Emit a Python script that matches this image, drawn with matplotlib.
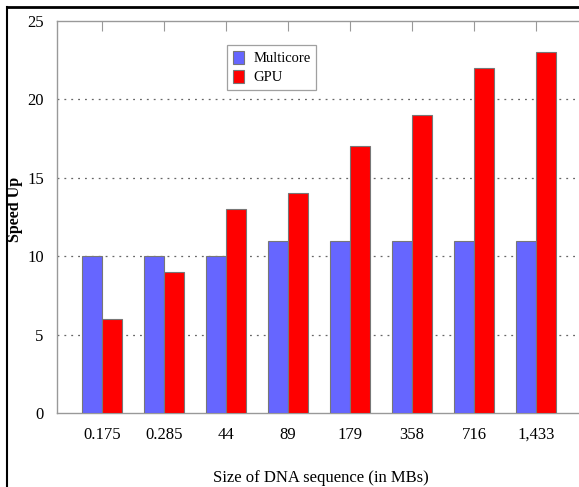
import matplotlib
matplotlib.use("Agg")
import matplotlib.pyplot as plt
import numpy as np
from matplotlib.lines import Line2D

categories = ["0.175", "0.285", "44", "89", "179", "358", "716", "1,433"]
multicore = [10, 10, 10, 11, 11, 11, 11, 11]
gpu = [6, 9, 13, 14, 17, 19, 22, 23]

plt.rcParams['font.family'] = ['Liberation Serif', 'DejaVu Serif']

fig = plt.figure(figsize=(5.79, 4.87), dpi=100)
ax = fig.add_axes([57/579, 1-413/487, 1-57/579, (413-21)/487])

x = np.arange(len(categories))
w = 0.32
ax.bar(x - w/2, multicore, w, color='#6666FF', edgecolor='#777777', linewidth=0.8, label='Multicore', zorder=3)
ax.bar(x + w/2, gpu, w, color='#FF0000', edgecolor='#777777', linewidth=0.8, label='GPU', zorder=3)

ax.set_xlim(-0.726, 7.69)
ax.set_ylim(0, 25)
ax.set_yticks([0, 5, 10, 15, 20, 25])
ax.set_xticks(x)
ax.set_xticklabels(categories)
ax.tick_params(axis='x', which='both', bottom=False, top=True, direction='in', length=7, color='#999999', pad=10, labelsize=12)
ax.tick_params(axis='y', left=False, pad=6, labelsize=12)

for y in [5, 10, 15, 20]:
    ax.axhline(y, color='#666666', linestyle=(0, (1.5, 4)), linewidth=0.9, zorder=1)

for s in ['left', 'bottom', 'top']:
    ax.spines[s].set_color('#999999')
    ax.spines[s].set_linewidth(1.0)
ax.spines['right'].set_visible(False)

ax.set_ylabel('Speed Up', fontweight='bold', fontsize=11.5)
ax.yaxis.set_label_coords((23-57)/522, 0.52)
ax.set_xlabel('Size of DNA sequence (in MBs)', fontsize=12)
ax.xaxis.set_label_coords(0.505, -0.145)

leg = ax.legend(loc='upper left', bbox_to_anchor=((227-57)/522, 1-(45-21)/392),
                frameon=True, fancybox=False, edgecolor='#888888', fontsize=10.5,
                handlelength=0.8, handleheight=1.0, handletextpad=0.6, borderpad=0.4,
                labelspacing=0.3, borderaxespad=0)
leg.get_frame().set_linewidth(0.9)

fig.add_artist(Line2D([7/579, 1], [1-7/487, 1-7/487], color='black', linewidth=2, transform=fig.transFigure))
fig.add_artist(Line2D([7/579, 7/579], [1-7/487, 0], color='black', linewidth=1.5, transform=fig.transFigure))

fig.savefig('out.png', dpi=100)
